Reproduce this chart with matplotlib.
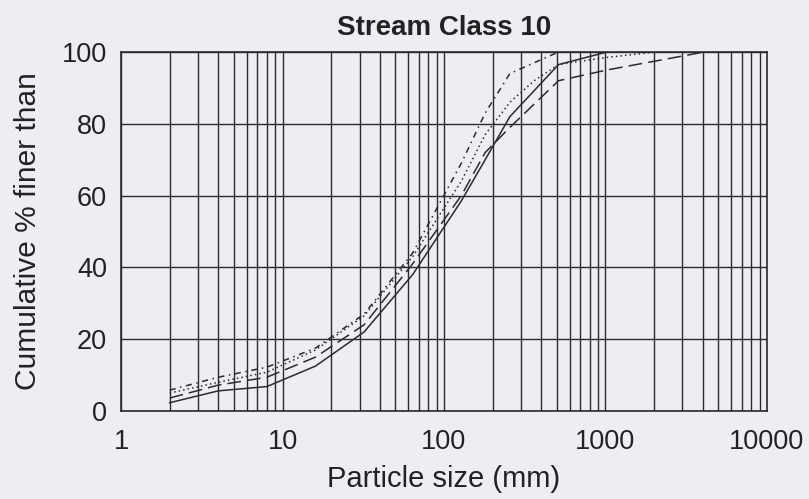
import numpy as np
import matplotlib.pyplot as plt
from matplotlib.ticker import LogLocator, FixedLocator, NullFormatter

plt.rcParams['font.family'] = ['Liberation Sans', 'DejaVu Sans']

# particle size classes (mm) and cumulative % finer for four sites
size_a = [2, 4, 8, 16, 32, 64, 128, 180, 256, 512, 1024]
finer_a = [2.3, 5.6, 6.8, 12.5, 22, 38, 58.5, 70, 82, 96.5, 100]

size_b = [2, 4, 8, 16, 32, 64, 128, 180, 256, 512, 1024, 2048, 4096]
finer_b = [3.6, 7.2, 9.4, 15, 24, 41, 60, 72, 79, 92, 95, 97.5, 100]

size_c = [2, 4, 8, 16, 32, 64, 128, 180, 256, 362, 512, 1024, 2048]
finer_c = [5, 8, 10.8, 17, 26.5, 43, 64, 77, 86, 92, 96.5, 98.5, 100]

size_d = [2, 4, 8, 16, 32, 64, 128, 180, 256, 512]
finer_d = [5.8, 9.4, 12.2, 17.5, 27, 44, 69, 83, 94, 100]

bg = '#eeedf3'
ink = '#2b2b2b'
txt = '#222222'

fig = plt.figure(figsize=(8.09, 4.99), dpi=100, facecolor=bg)
ax = fig.add_axes([0.1496, 0.1764, 0.7984, 0.7194], facecolor=bg)

ax.plot(size_a, finer_a, color=ink, lw=1.1, ls='-')
ax.plot(size_b, finer_b, color=ink, lw=1.1, ls=(0, (9, 4)))
ax.plot(size_c, finer_c, color=ink, lw=1.1, ls=(0, (1, 2)))
ax.plot(size_d, finer_d, color=ink, lw=1.1, ls=(0, (4, 3, 1, 3)))

ax.set_xscale('log')
ax.set_xlim(1, 10000)
ax.set_ylim(0, 100)
ax.xaxis.set_major_locator(FixedLocator([1, 10, 100, 1000, 10000]))
ax.xaxis.set_minor_locator(LogLocator(base=10, subs=np.arange(2, 10), numticks=20))
ax.xaxis.set_minor_formatter(NullFormatter())
ax.set_xticklabels(['1', '10', '100', '1000', '10000'])
ax.set_yticks([0, 20, 40, 60, 80, 100])

ax.grid(True, which='both', axis='x', color=ink, lw=1.0)
ax.grid(True, which='major', axis='y', color=ink, lw=1.0)
ax.set_axisbelow(True)
for s in ax.spines.values():
    s.set_color(ink)
    s.set_linewidth(1.2)
ax.tick_params(which='both', length=0, labelsize=19.5, colors=txt)
ax.tick_params(axis='x', pad=13)
ax.tick_params(axis='y', pad=10)

ax.set_title('Stream Class 10', fontsize=20, fontweight='bold', color=txt, pad=12)
ax.set_xlabel('Particle size (mm)', fontsize=21, color=txt, labelpad=7)
ax.set_ylabel('Cumulative % finer than', fontsize=21.5, color=txt, labelpad=14)

fig.savefig('out.png', dpi=100, facecolor=bg)
